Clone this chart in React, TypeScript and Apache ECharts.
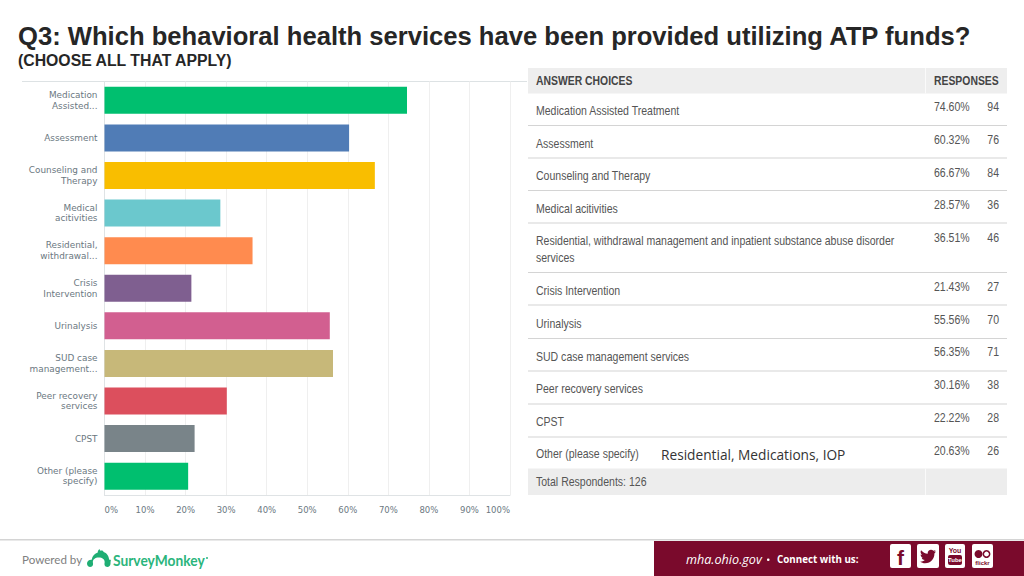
import React, { useEffect, useRef } from "react";
import * as echarts from "echarts";

const categories = [
  "Medication\nAssisted...", "Assessment", "Counseling and\nTherapy", "Medical\nacitivities",
  "Residential,\nwithdrawal...", "Crisis\nIntervention", "Urinalysis", "SUD case\nmanagement...",
  "Peer recovery\nservices", "CPST", "Other (please\nspecify)",
];
const percents = [74.6, 60.32, 66.67, 28.57, 36.51, 21.43, 55.56, 56.35, 30.16, 22.22, 20.63];
const percentLabels = ["74.60%", "60.32%", "66.67%", "28.57%", "36.51%", "21.43%", "55.56%", "56.35%", "30.16%", "22.22%", "20.63%"];
const counts = ["94", "76", "84", "36", "46", "27", "70", "71", "38", "28", "26"];
const barColors = ["#00bf6f", "#507cb6", "#f9be00", "#6bc8cd", "#ff8b4f", "#7f5f90", "#d25f90", "#c7b879", "#dc4f5d", "#798489", "#00bf6f"];
const answerChoices = [
  ["Medication Assisted Treatment"], ["Assessment"], ["Counseling and Therapy"], ["Medical acitivities"],
  ["Residential, withdrawal management and inpatient substance abuse disorder", "services"],
  ["Crisis Intervention"], ["Urinalysis"], ["SUD case management services"], ["Peer recovery services"],
  ["CPST"], ["Other (please specify)"],
];
const rowLabelY = [111, 143.5, 176, 208.5, 241, 291, 324, 356.5, 389, 421.5, 454];
const rowValueY = [107, 139.5, 172.5, 205, 237.5, 286.5, 319.5, 352, 385, 417.5, 450.5];
const rowLineY = [125.5, 158, 190.5, 223, 272.5, 305, 338.5, 371, 404, 437];

echarts.graphic.registerShape("smLogo", echarts.graphic.extendPath(
  "M0 14.5C0 12 2.2 10.6 4.8 10.8C5.4 7 8 4.3 11 3.6C10.8 2.4 11.4 1 13 0C12.8 1 13.4 1.8 14.4 1.6C15.4 1.4 16.4 1.8 17 3C20 3.8 22.2 7 22.7 10.8C25.3 10.6 24 10.6 24 14.5C24 17.6 21.4 18.6 19 17.6C17.8 17 17.6 15 18 13.6C18.4 10.6 15.6 8.6 12 8.6C8.4 8.6 5.6 10.6 6 13.6C6.4 15 6.2 17 5 17.6C2.6 18.6 0 17.6 0 14.5Z", {}));
echarts.graphic.registerShape("bird", echarts.graphic.extendPath(
  "M16 2.2C15.4 2.5 14.8 2.7 14.1 2.8C14.8 2.4 15.3 1.7 15.5 1C14.9 1.4 14.2 1.7 13.4 1.8C12.8 1.1 11.9.7 11 .7C9.2.7 7.7 2.2 7.7 4C7.7 4.3 7.7 4.5 7.8 4.8C5.1 4.6 2.7 3.3 1.1 1.3C.8 1.8.6 2.4.6 3C.6 4.2 1.2 5.2 2.1 5.8C1.6 5.8 1 5.6.6 5.4C.6 7 1.7 8.4 3.2 8.7C2.7 8.8 2.2 8.9 1.7 8.8C2.1 10.1 3.3 11.1 4.8 11.1C3.3 12.3 1.6 12.9 0 12.7C1.5 13.6 3.2 14.2 5.1 14.2C11.1 14.2 14.4 9.2 14.4 4.9L14.4 4.4C15 3.9 15.6 3.1 16 2.2Z", {}));

function txt(x: number, y: number, text: string, o: any = {}, scaleX = 1) {
  return {
    type: "text", x, y, scaleX, silent: true,
    style: {
      text, fill: o.fill ?? "#555", font: o.font ?? "13px 'Liberation Sans'",
      textAlign: o.align ?? "left", textVerticalAlign: "middle", textBaseline: "middle",
    },
  };
}
const rect = (x: number, y: number, w: number, h: number, fill: string, r = 0) => ({
  type: "rect", silent: true, shape: { x, y, width: w, height: h, r }, style: { fill },
});
const NARROW = 0.81;

function buildGraphic() {
  const els: any[] = [];
  els.push(txt(18, 36, "Q3: Which behavioral health services have been provided utilizing ATP funds?", { font: "bold 25.6px 'Liberation Sans'", fill: "#262626" }));
  els.push(txt(18, 60, "(CHOOSE ALL THAT APPLY)", { font: "bold 15.8px 'Liberation Sans'", fill: "#262626" }, 1));
  els.push(rect(22, 81, 505, 1, "#dde2e4"));
  // table
  els.push(rect(528, 68, 479, 25.5, "#eeeeee"));
  els.push(rect(925, 68, 1, 25.5, "#fafafa"));
  els.push(txt(536, 80.5, "ANSWER CHOICES", { font: "bold 13px 'Liberation Sans'", fill: "#444" }, 0.8));
  els.push(txt(934, 80.5, "RESPONSES", { font: "bold 13px 'Liberation Sans'", fill: "#444" }, 0.8));
  rowLineY.forEach((y) => els.push(rect(528, y - 0.5, 479, 1, "#d4d4d4")));
  answerChoices.forEach((lines, i) => {
    lines.forEach((line, j) => els.push(txt(536, rowLabelY[i] + j * 17, line, {}, NARROW)));
    els.push(txt(934, rowValueY[i], percentLabels[i], {}, NARROW));
    els.push(txt(999, rowValueY[i], counts[i], { align: "right" }, NARROW));
  });
  els.push(txt(661, 454.5, "Residential, Medications, IOP", { font: "13.7px 'Open Sans'", fill: "#333" }));
  els.push(rect(528, 468.5, 479, 26.5, "#ededed"));
  els.push(rect(925, 468.5, 1, 26.5, "#fafafa"));
  els.push(txt(536, 482, "Total Respondents: 126", {}, NARROW));
  // footer
  els.push(rect(0, 539, 1024, 1.5, "#d4d4d4"));
  els.push(txt(22, 559, "Powered by", { font: "11.6px 'Lato'", fill: "#808080" }));
  els.push({ type: "smLogo", x: 87, y: 549, scaleX: 0.98, scaleY: 1, silent: true, style: { fill: "#1fae74" } });
  els.push(txt(113, 560, "SurveyMonkey", { font: "bold 15px 'Lato'", fill: "#2bb57c" }, 0.92));
  els.push(rect(206, 557, 2, 2, "#2bb57c", 1));
  els.push(rect(654, 541, 370, 35, "#7a0a2c"));
  els.push(txt(686, 559, "mha.ohio.gov", { font: "italic 12.6px 'Open Sans'", fill: "#fff" }));
  els.push(rect(767, 558.5, 2.5, 2.5, "#fff", 1));
  els.push(txt(777, 559, "Connect with us:", { font: "bold 9.8px 'Open Sans'", fill: "#fff" }));
  els.push(rect(890, 544, 21, 24, "#fff", 2));
  els.push(txt(900.5, 557, "f", { font: "bold 21px 'Liberation Sans'", fill: "#7a0a2c", align: "center" }));
  els.push(rect(917, 544, 22, 24, "#fff", 2));
  els.push({ type: "bird", x: 920, y: 549, silent: true, style: { fill: "#7a0a2c" } });
  els.push(rect(945, 544, 20, 24, "#fff", 2));
  els.push(txt(955, 550, "You", { font: "bold 7px 'Liberation Sans'", fill: "#7a0a2c", align: "center" }));
  els.push(rect(948, 555, 14, 10, "#7a0a2c", 2));
  els.push(txt(955, 560, "Tube", { font: "bold 6px 'Liberation Sans'", fill: "#fff", align: "center" }));
  els.push(rect(972, 544, 21, 24, "#fff", 2));
  els.push({ type: "circle", silent: true, shape: { cx: 978.5, cy: 554, r: 4 }, style: { fill: "#7a0a2c" } });
  els.push({ type: "circle", silent: true, shape: { cx: 986.5, cy: 554, r: 3.2 }, style: { fill: "#fff", stroke: "#7a0a2c", lineWidth: 1.5 } });
  els.push(txt(982.5, 563, "flickr", { font: "bold 6px 'Liberation Sans'", fill: "#7a0a2c", align: "center" }));
  return els;
}

export default function App() {
  const ref = useRef<HTMLDivElement>(null);
  useEffect(() => {
    document.body.style.margin = "0";
    const chart = echarts.init(ref.current!, null, { renderer: "svg" });
    chart.setOption({
      animation: false,
      backgroundColor: "#fff",
      grid: { left: 104.5, top: 81.5, width: 405.5, height: 413.5, containLabel: false },
      xAxis: {
        type: "value", min: 0, max: 100, interval: 10,
        axisLine: { show: true, lineStyle: { color: "#dfe3e5" } },
        axisTick: { show: false },
        splitLine: { show: true, lineStyle: { color: "#efefef" } },
        axisLabel: {
          formatter: "{value}%", color: "#6b787f", fontFamily: "DejaVu Sans", fontSize: 8.5,
          margin: 10, alignMinLabel: "left", alignMaxLabel: "right",
        },
      },
      yAxis: {
        type: "category", inverse: true, data: categories,
        axisLine: { show: true, lineStyle: { color: "#dfe3e5" } },
        axisTick: { show: false },
        axisLabel: { color: "#6b787f", fontFamily: "DejaVu Sans", fontSize: 8.9, lineHeight: 10.5, margin: 7, align: "right", padding: [2, 0, 0, 0] },
      },
      series: [{
        type: "bar", barWidth: 27,
        data: percents.map((value, i) => ({ value, itemStyle: { color: barColors[i] } })),
      }],
      graphic: buildGraphic(),
    });
    return () => chart.dispose();
  }, []);
  return <div ref={ref} style={{ position: "fixed", left: 0, top: 0, width: 1024, height: 576 }} />;
}
